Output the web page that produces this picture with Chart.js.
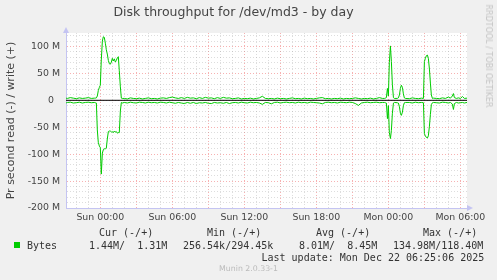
<!DOCTYPE html>
<html>
<head>
<meta charset="utf-8">
<title>Disk throughput for /dev/md3 - by day</title>
<style>
  body { margin: 0; background: #f0f0f0; }
  #wrap { position: relative; width: 497px; height: 280px; overflow: hidden; }
  #chart { position: absolute; left: 0; top: 0; }
  .t { position: absolute; white-space: pre; line-height: 12px; }
  .mono { font-family: "DejaVu Sans Mono", monospace; font-size: 10px; color: #333; }
  .swatch { position: absolute; left: 14px; top: 242px; width: 6px; height: 6px; background: #00cc00; }
  .foot { left: 0; width: 497px; top: 263px; text-align: center; font-family: "DejaVu Sans", sans-serif; font-size: 7.8px; color: #bbb; }
  .rrd { left: 488px; top: 56px; font-family: "DejaVu Sans", sans-serif; font-size: 8px; line-height: 8px; color: #c4c4c4;
         transform: translate(-50%, -50%) rotate(90deg); }
</style>
</head>
<body>
<div id="wrap">
  <canvas id="chart" width="497" height="280"></canvas>

  <div class="t mono" style="left:99px; top:227px">Cur (-/+)</div>
  <div class="t mono" style="left:207px; top:227px">Min (-/+)</div>
  <div class="t mono" style="left:316px; top:227px">Avg (-/+)</div>
  <div class="t mono" style="left:423px; top:227px">Max (-/+)</div>

  <div class="swatch"></div>
  <div class="t mono" style="left:27px; top:239.5px">Bytes</div>
  <div class="t mono" style="left:89px; top:239.5px">1.44M/  1.31M</div>
  <div class="t mono" style="left:183px; top:239.5px">256.54k/294.45k</div>
  <div class="t mono" style="left:299px; top:239.5px">8.01M/  8.45M</div>
  <div class="t mono" style="left:393px; top:239.5px">134.98M/118.40M</div>

  <div class="t mono" style="left:261.5px; top:251.5px">Last update: Mon Dec 22 06:25:06 2025</div>
  <div class="t foot">Munin 2.0.33-1</div>
  <div class="t rrd">RRDTOOL / TOBI OETIKER</div>
</div>

<script src="https://cdn.jsdelivr.net/npm/chart.js"></script>
<script>
  // hours relative to Sun 00:00, values in MB/s
  const hours = [
    -2.86, -2.75, -2.5, -2.25, -2.0, -1.75, -1.5, -1.25, -1.0, -0.75, -0.5,
    -0.42, -0.33, -0.25, -0.17, -0.08, 0, 0.08, 0.17, 0.25, 0.33, 0.42, 0.5, 0.58, 0.67,
    0.75, 0.83, 0.92, 1.0, 1.08, 1.17, 1.25, 1.33, 1.42, 1.5, 1.58, 1.67, 1.75, 1.83,
    2.0, 2.25, 2.5, 2.75, 3.0, 3.25, 3.5, 3.75, 4.0, 4.25, 4.5, 4.75,
    5.0, 5.25, 5.5, 5.75, 6.0, 6.25, 6.5, 6.75, 7.0, 7.25, 7.5, 7.75,
    8.0, 8.25, 8.5, 8.75, 9.0, 9.25, 9.5, 9.75, 10.0, 10.25, 10.5, 10.75,
    11.0, 11.25, 11.5, 11.75, 12.0, 12.25, 12.5, 12.75, 13.0, 13.25, 13.5, 13.75,
    14.0, 14.25, 14.5, 14.75, 15.0, 15.25, 15.5, 15.75, 16.0, 16.25, 16.5, 16.75,
    17.0, 17.25, 17.5, 17.75, 18.0, 18.25, 18.5, 18.75, 19.0, 19.25, 19.5, 19.75,
    20.0, 20.25, 20.5, 20.75, 21.0, 21.25, 21.5, 21.75, 22.0, 22.25, 22.5, 22.75,
    23.0, 23.25, 23.5,
    23.67, 23.75, 23.83, 23.92, 24.0, 24.08, 24.17, 24.25, 24.33, 24.42, 24.5,
    24.75, 24.83, 24.92, 25.0, 25.08, 25.17, 25.25, 25.33, 25.42,
    25.75, 26.0, 26.25, 26.5, 26.75, 26.92,
    27.0, 27.08, 27.17, 27.25, 27.33, 27.42, 27.5, 27.58, 27.67, 27.75,
    28.0, 28.25, 28.5, 28.75, 29.0, 29.17, 29.33, 29.42, 29.5, 29.67, 29.83,
    30.0, 30.17, 30.33, 30.55
  ];

  const writeM = [
    4, 3.5, 5, 4, 3, 4.5, 3.5, 4, 5, 3.5, 4,
    4, 4.5, 8, 18, 24, 28, 75, 110, 118, 117, 106, 94, 86, 74,
    68, 67, 71, 78, 73, 77, 71, 74, 79, 81, 55, 25, 4, 3.5,
    3.5, 2.5, 4.5, 3.5, 3, 4, 2.5, 3.5, 4.5, 3, 3.5, 2.5,
    4, 4.5, 3.5, 5, 6, 4.5, 3.5, 5, 3.5, 5.5, 4, 4.5,
    3, 5, 3.5, 5.5, 4, 4.5, 3, 5, 3.5, 5.5, 4, 4.5,
    3, 3.5, 4.5, 2.5, 3.5, 3, 4, 2.5, 3.5, 4.5, 7.5, 3.5,
    3, 3.5, 2.5, 4, 3, 3.5, 2.5, 3.5, 4.5, 3, 3.5, 2.5,
    4, 3, 3.5, 2.5, 3.5, 4.5, 5, 3, 3.5, 2.5, 3.5, 3,
    4, 2.5, 3.5, 3, 3.5, 4.5, 3.5, 2.5, 3.5, 3, 4, 2.5,
    3.5, 5, 3.5,
    3.5, 4, 5, 22, 8, 70, 101, 72, 30, 5, 3.5,
    3.5, 4.5, 10, 22, 28, 24, 12, 4.5, 3.5,
    3, 4.5, 3.5, 3, 4, 3.5,
    72, 78, 83, 84, 78, 58, 32, 10, 3.5, 4,
    3.5, 3, 4.5, 3.5, 6, 4, 8, 12.5, 5, 3.5, 4.5,
    3.5, 7, 3.5, 4
  ];

  const readM = [
    5, 4, 3.5, 5, 4.5, 3.5, 5, 4, 3.5, 4.5, 4,
    4.5, 5, 55, 78, 85, 88, 137, 98, 92, 90, 90, 89, 72, 58,
    57, 57, 59, 58, 60, 57, 59, 58, 61, 60, 60, 20, 4, 5,
    4, 5, 3.5, 4.5, 5, 3.5, 4, 5, 3.5, 4.5, 4, 5,
    3.5, 4, 5, 3.5, 4.5, 5.5, 4, 5, 6, 4, 5.5, 4,
    6, 4.5, 5, 4, 5.5, 6, 4, 5, 4.5, 5.5, 4, 6,
    4.5, 4, 5, 3.5, 4.5, 5, 3.5, 4.5, 4, 5, 7.5, 4,
    4.5, 6.5, 4, 3.5, 5, 4, 3.5, 4.5, 4, 5, 3.5, 4.5,
    4, 5, 3.5, 4, 4.5, 5, 6.5, 4, 3.5, 4.5, 4, 5,
    3.5, 4, 4.5, 3.5, 4, 6, 9.5, 5, 4, 3.5, 4.5, 4,
    3.5, 4.5, 4,
    4, 4.5, 5, 34, 10, 60, 71, 56, 25, 5, 4,
    4.5, 5, 12, 24, 28, 22, 10, 4.5, 4,
    4, 5, 3.5, 4.5, 4, 4.5,
    62, 66, 69, 70, 66, 48, 26, 8, 4.5, 4,
    4.5, 5, 3.5, 4, 5, 4, 7, 17, 6, 4, 5,
    4.5, 4, 5, 4
  ];

  const days = ['Sun', 'Mon'];
  const X_MIN = -2.86, X_MAX = 30.55;
  const Y_MIN = -200, Y_MAX = 125;

  const GREEN = '#00cc00';
  const MINOR = 'rgba(150,150,150,0.32)';
  const MAJOR = 'rgba(235,70,70,0.42)';
  const AXIS = '#c4c4f2';

  // white canvas behind the plot and rrdtool style axis arrows
  const rrdDecor = {
    id: 'rrdDecor',
    beforeDraw(chart) {
      const {ctx, chartArea: a} = chart;
      ctx.save();
      ctx.fillStyle = '#ffffff';
      ctx.fillRect(a.left, a.top, a.right - a.left, a.bottom - a.top);
      ctx.restore();
    },
    afterDraw(chart) {
      const {ctx, chartArea: a} = chart;
      ctx.save();
      ctx.fillStyle = AXIS;
      ctx.beginPath();
      ctx.moveTo(a.left - 3, a.top);
      ctx.lineTo(a.left + 3, a.top);
      ctx.lineTo(a.left, a.top - 6);
      ctx.closePath();
      ctx.fill();
      ctx.beginPath();
      ctx.moveTo(a.right, a.bottom - 3);
      ctx.lineTo(a.right, a.bottom + 3);
      ctx.lineTo(a.right + 6, a.bottom);
      ctx.closePath();
      ctx.fill();
      ctx.restore();
    }
  };

  const line = (data, color, order) => ({
    data, borderColor: color, borderWidth: 1, pointRadius: 0, tension: 0, order
  });

  Chart.defaults.font.family = '"DejaVu Sans", sans-serif';

  new Chart(document.getElementById('chart').getContext('2d'), {
    type: 'line',
    data: {
      datasets: [
        line([{x: X_MIN, y: 0}, {x: X_MAX, y: 0}], '#000000', 0),
        line(hours.map((h, i) => ({x: h, y: writeM[i]})), GREEN, 1),
        line(hours.map((h, i) => ({x: h, y: -readM[i]})), GREEN, 1)
      ]
    },
    options: {
      responsive: false,
      animation: false,
      layout: { padding: { left: 0, right: 30, top: 0, bottom: 0 } },
      plugins: {
        legend: { display: false },
        tooltip: { enabled: false },
        title: {
          display: true,
          text: 'Disk throughput for /dev/md3 - by day',
          color: '#444',
          font: { size: 12.5, weight: 'normal' },
          padding: { top: 5, bottom: 13 }
        }
      },
      scales: {
        x: {
          type: 'linear',
          min: X_MIN,
          max: X_MAX,
          afterFit: s => { s.height = 72; },
          ticks: {
            stepSize: 1,
            includeBounds: false,
            autoSkip: false,
            maxRotation: 0,
            padding: 4,
            color: '#444',
            font: { size: 9.4 },
            callback: v => {
              if (v < 0 || v % 6 !== 0) return '';
              const h = String(v % 24).padStart(2, '0');
              return days[Math.floor(v / 24)] + ' ' + h + ':00';
            }
          },
          grid: {
            drawTicks: false,
            color: c => (Math.abs(c.tick.value % 3) < 1e-9 ? MAJOR : MINOR)
          },
          border: { display: true, color: AXIS, dash: [1, 2] }
        },
        y: {
          min: Y_MIN,
          max: Y_MAX,
          afterFit: s => { s.width = 66; },
          ticks: {
            stepSize: 10,
            includeBounds: false,
            autoSkip: false,
            padding: 6,
            color: '#444',
            font: { size: 9.4 },
            callback: v => (v === 0 ? '0  ' : (v % 50 === 0 ? v + ' M' : ''))
          },
          grid: {
            drawTicks: false,
            color: c => (c.tick.value % 50 === 0 ? MAJOR : MINOR)
          },
          border: { display: true, color: AXIS, dash: [1, 2] },
          title: {
            display: true,
            text: 'Pr second read (-) / write (+)',
            color: '#444',
            font: { size: 11 },
            padding: { top: 5, bottom: 0 }
          }
        }
      }
    },
    plugins: [rrdDecor]
  });
</script>
</body>
</html>
